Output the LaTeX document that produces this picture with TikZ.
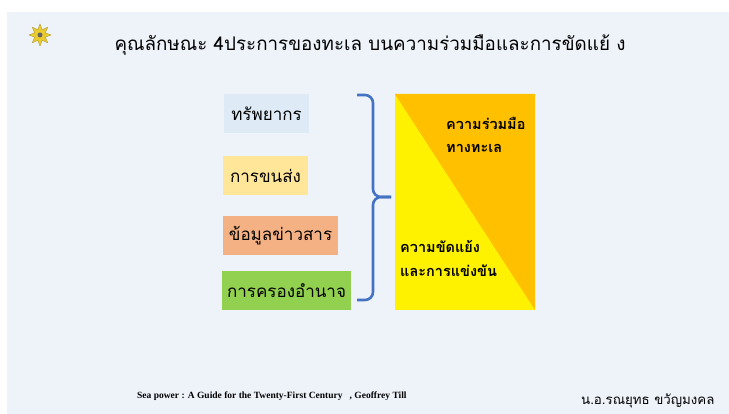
\documentclass[tikz,border=0pt]{standalone}
\usepackage{fontspec}
\setmainfont{Liberation Serif}
\newfontfamily\thaifont[Script=Thai]{Loma}
\usetikzlibrary{shapes.geometric}
\definecolor{slidebg}{HTML}{EEF3FA}
\definecolor{resblue}{HTML}{DEEBF7}
\definecolor{transyellow}{HTML}{FFE699}
\definecolor{infoorange}{HTML}{F4B183}
\definecolor{powergreen}{HTML}{92D050}
\definecolor{bracecol}{HTML}{4472C4}
\definecolor{coopcol}{HTML}{FFC000}
\definecolor{emblemcol}{HTML}{E9CB2E}

\tikzset{
  factor/.style={inner sep=0pt, minimum height=39pt, font=\thaifont\fontsize{17}{17}\selectfont},
  paneltext/.style={inner sep=0pt, anchor=west, font=\thaifont\bfseries\fontsize{14.5}{14.5}\selectfont}
}

\begin{document}
\begin{tikzpicture}[x=1pt,y=1pt]
\useasboundingbox (0,0) rectangle (729,-414);
\fill[white] (0,0) rectangle (729,-414);
\fill[slidebg] (7,-12) rectangle (729,-414);

\node[star, star points=8, star point ratio=1.9, fill=emblemcol, draw=emblemcol!70!black, line width=0.3pt, minimum size=22pt, inner sep=0pt] (emblem) at (40,-35) {};
\fill[black!60] (emblem.center) circle (2.5pt);
\node (title) at (370,-45) {\thaifont\fontsize{18.8}{18.8}\selectfont คุณลักษณะ 4ประการของทะเล บนความร่วมมือและการขัดแย้ ง};

\node[factor, fill=resblue, minimum width=85pt] (res) at (266.5,-113.5) {ทรัพยากร};
\node[factor, fill=transyellow, minimum width=85pt] (trans) at (265.5,-175.5) {การขนส่ง};
\node[factor, fill=infoorange, minimum width=115pt] (info) at (280.5,-236) {ข้อมูลข่าวสาร};
\node[factor, fill=powergreen, minimum width=129pt] (power) at (286.5,-290.5) {การครองอำนาจ};

\coordinate (btop) at (357,-95);
\coordinate (btip) at (391,-197);
\coordinate (bbot) at (357,-300);
\draw[bracecol, line width=2.6pt, rounded corners=8pt] (btop) -- (373,-95) -- (373,-197) -- (btip);
\draw[bracecol, line width=2.6pt, rounded corners=8pt] (btip) -- (373,-197) -- (373,-300) -- (bbot);

\node[fill=yellow, inner sep=0pt, minimum width=140pt, minimum height=216pt] (panel) at (465,-202) {};
\fill[coopcol] (panel.north west) -- (panel.north east) -- (panel.south east) -- cycle;
\node[paneltext] (coop1) at (446,-123) {ความร่วมมือ};
\node[paneltext] (coop2) at (446,-148) {ทางทะเล};
\node[paneltext] (conf1) at (400,-246) {ความขัดแย้ง};
\node[paneltext] (conf2) at (400,-271) {และการแข่งขัน};

\node[anchor=west, inner sep=0pt] (cite) at (137,-396) {\bfseries\fontsize{9.5}{9.5}\selectfont Sea power : A Guide for the Twenty-First Century \ \ , Geoffrey Till};
\node[anchor=west, inner sep=0pt] (author) at (581,-401) {\thaifont\fontsize{13.3}{13.3}\selectfont น.อ.รณยุทธ ขวัญมงคล};
\end{tikzpicture}
\end{document}
